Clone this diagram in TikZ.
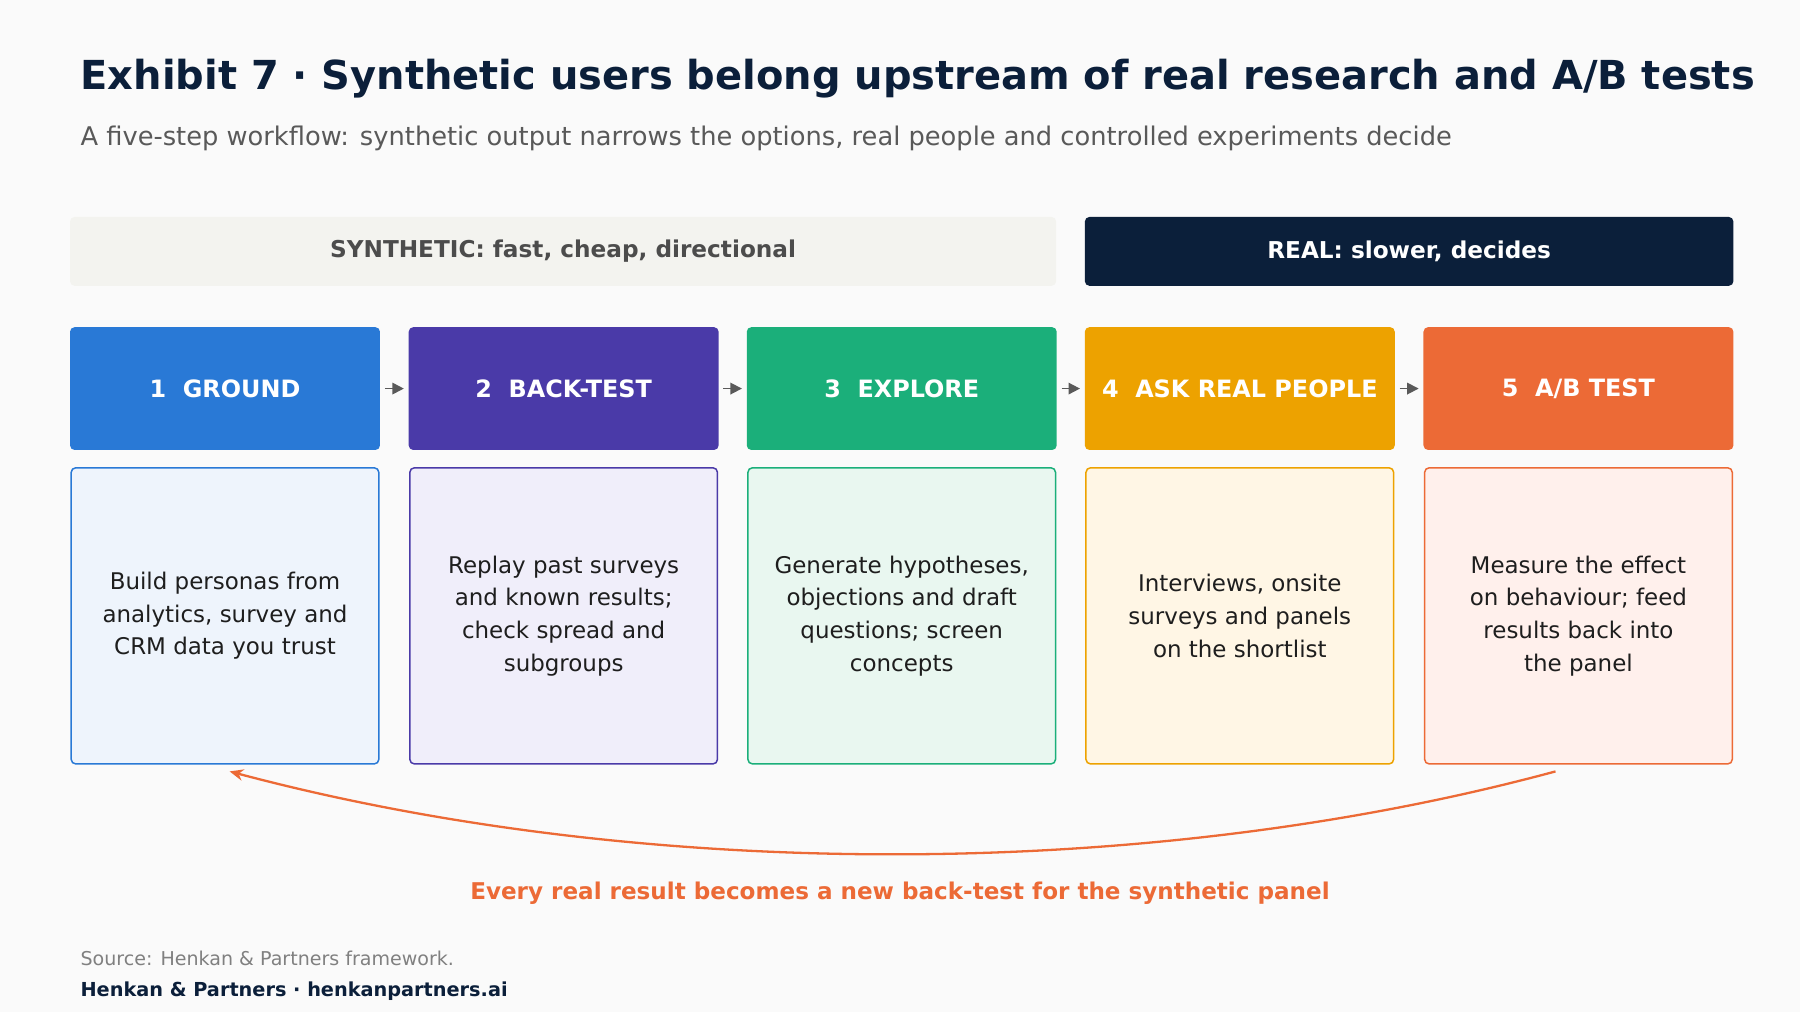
\documentclass[tikz,border=0pt]{standalone}
\usepackage{fontspec}
\setmainfont{DejaVu Sans}
\usetikzlibrary{arrows.meta}
\definecolor{bg}{HTML}{FAFAFA}
\definecolor{navy}{HTML}{0B1F3A}
\definecolor{synth}{HTML}{F3F3EF}
\definecolor{c1}{HTML}{2979D6}\definecolor{l1}{HTML}{EEF4FC}
\definecolor{c2}{HTML}{4A3AA8}\definecolor{l2}{HTML}{F0EEFA}
\definecolor{c3}{HTML}{1BAF7A}\definecolor{l3}{HTML}{E9F7F0}
\definecolor{c4}{HTML}{EDA200}\definecolor{l4}{HTML}{FFF6E5}
\definecolor{c5}{HTML}{EC6A36}\definecolor{l5}{HTML}{FFF0EC}
\definecolor{txt}{HTML}{1E1E1E}
\begin{document}
\begin{tikzpicture}[x=1pt,y=1pt,
 band/.style={rounded corners=4pt,minimum width=#1,minimum height=60pt,font=\bfseries\fontsize{20.2}{24}\selectfont},
 head/.style={rounded corners=4pt,fill=#1,minimum width=270pt,minimum height=107pt,text=white,font=\bfseries\fontsize{20.8}{24}\selectfont},
 body/.style={rounded corners=4pt,draw=#1,line width=1.3pt,minimum width=268pt,minimum height=258pt,text=txt,align=center,font=\fontsize{20}{28.5}\selectfont},
 flow/.style={-{Triangle[length=10pt,width=10pt]},draw=black!65,line width=1.5pt,shorten <=4pt,shorten >=4pt}]
\fill[bg] (0,0) rectangle (1568,882);
\node[anchor=base west,inner sep=0pt,text=navy,font=\bfseries\fontsize{34.8}{40}\selectfont] (t) at (70,804) {Exhibit 7 · Synthetic users belong upstream of real research and A/B tests};
\node[anchor=base west,inner sep=0pt,text=black!65,font=\fontsize{22.4}{26}\selectfont] (s) at (70,755) {A five-step workflow: synthetic output narrows the options, real people and controlled experiments decide};
\node[band=859pt,fill=synth,text=black!70] (sb) at (490.5,663) {SYNTHETIC: fast, cheap, directional};
\node[band=565pt,fill=navy,text=white] (rb) at (1227.5,663) {REAL: slower, decides};
\foreach \i/\x/\t in {1/196/{1\ \ GROUND},2/491/{2\ \ BACK-TEST},3/785.5/{3\ \ EXPLORE},4/1080/{4\ \ ASK REAL PEOPLE},5/1375/{5\ \ A/B TEST}}{
 \node[head=c\i] (h\i) at (\x,543.5) {\t};
}
\node[body=c1,fill=l1] (b1) at (196,345.5) {Build personas from\\analytics, survey and\\CRM data you trust};
\node[body=c2,fill=l2] (b2) at (491,345.5) {Replay past surveys\\and known results;\\check spread and\\subgroups};
\node[body=c3,fill=l3] (b3) at (785.5,345.5) {Generate hypotheses,\\objections and draft\\questions; screen\\concepts};
\node[body=c4,fill=l4] (b4) at (1080,345.5) {Interviews, onsite\\surveys and panels\\on the shortlist};
\node[body=c5,fill=l5] (b5) at (1375,345.5) {Measure the effect\\on behaviour; feed\\results back into\\the panel};
\foreach \a/\b in {1/2,2/3,3/4,4/5} \draw[flow] (h\a.east) -- (h\b.west);
\coordinate (cs) at (1355,210);
\coordinate (ce) at (200,210);
\draw[c5,line width=2pt,-{Stealth[length=12pt,width=10pt]}] (cs) .. controls (1000,114) and (560,114) .. (ce);
\node[text=c5,font=\bfseries\fontsize{20.1}{24}\selectfont] (lab) at (784,104) {Every real result becomes a new back-test for the synthetic panel};
\node[anchor=base west,inner sep=0pt,text=black!50,font=\fontsize{16.6}{19}\selectfont] (src) at (70,41) {Source: Henkan \& Partners framework.};
\node[anchor=base west,inner sep=0pt,text=navy,font=\bfseries\fontsize{16.8}{19}\selectfont] (ft) at (70,14) {Henkan \& Partners · henkanpartners.ai};
\end{tikzpicture}
\end{document}
